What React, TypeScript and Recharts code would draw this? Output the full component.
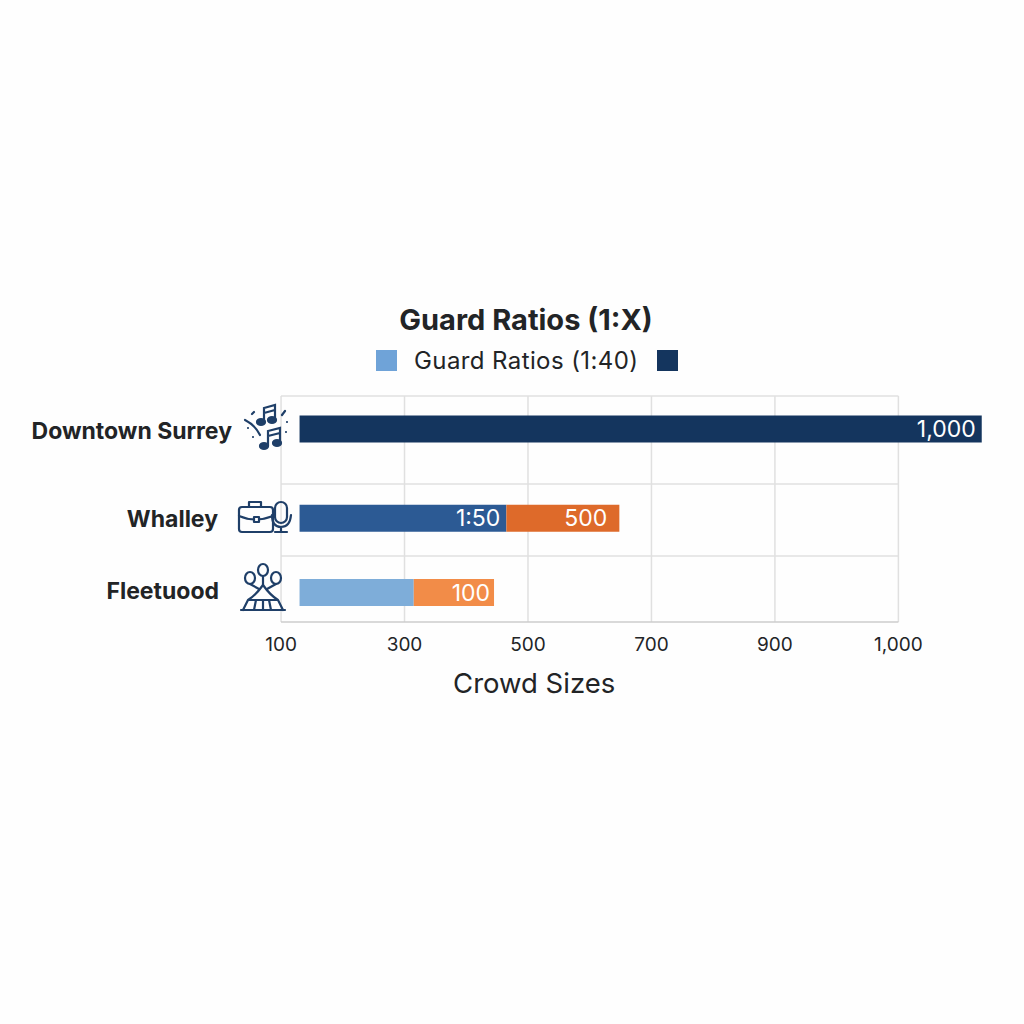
import { BarChart, Bar, XAxis, YAxis, Cell, LabelList, ReferenceLine, CartesianGrid } from "recharts";

const FONT = "Inter, sans-serif";
const INK = "#222426";
const GRID = "#E0E0E0";

const categories = ["Downtown Surrey", "Whalley", "Fleetuood"];
const rowPositions = [0, 6, 11];
const barStart = [130, 130, 130];
const firstSegment = [1105, 335, 185];
const secondSegment = [0, 183, 130];
const firstLabels = ["1,000", "1:50", ""];
const secondLabels = ["", "500", "100"];
const firstColors = ["#14355E", "#2C5A94", "#7EADD9"];
const secondColors = ["#14355E", "#DE6A2A", "#F28C48"];

const xTicks = [100, 300, 500, 700, 900, 1100];
const xTickLabels = ["100", "300", "500", "700", "900", "1,000"];
const rowDividers = [3.72, 8.56];
const legendColors = ["#6FA3D8", "#14355E"];

const data = categories.map((name, i) => ({
  name,
  row: rowPositions[i],
  start: barStart[i],
  first: firstSegment[i],
  second: secondSegment[i],
  firstLabel: firstLabels[i],
  secondLabel: secondLabels[i],
}));

const ICON = "#1F3F68";

function MusicIcon() {
  return (
    <g fill="none" stroke={ICON} strokeWidth={2.2} strokeLinecap="round">
      <path d="M-3 -6 V-20 L8 -23 V-8 M-3 -15 L8 -18" />
      <ellipse cx={-6} cy={-6} rx={4} ry={3} fill={ICON} />
      <ellipse cx={5} cy={-8} rx={4} ry={3} fill={ICON} />
      <path d="M1 18 V3 L13 0 V15 M1 8 L13 5" />
      <ellipse cx={-3} cy={18} rx={4} ry={3} fill={ICON} />
      <ellipse cx={10} cy={15} rx={4} ry={3} fill={ICON} />
      <path d="M-22 -8 Q-12 -3 -7 7 M-15 -14 L-13 -16 M15 -13 L18 -17 M-19 0 L-19 0 M-14 9 L-14 9 M20 -6 L20 -6 M19 4 L19 4" />
    </g>
  );
}

function BriefcaseIcon() {
  return (
    <g fill="none" stroke={ICON} strokeWidth={2.2} strokeLinejoin="round" strokeLinecap="round">
      <rect x={-28} y={-11} width={34} height={25} rx={3} />
      <path d="M-18 -11 V-16 H-6 V-11 M-28 -2 Q-12 5 6 -2" />
      <rect x={-13} y={-1} width={5} height={5} fill="#fff" />
      <rect x={8} y={-16} width={12} height={21} rx={6} />
      <path d="M5 -3 Q5 9 14 9 Q23 9 24 -3 M14 9 V14 M8 14 H20" />
    </g>
  );
}

function TentIcon() {
  return (
    <g fill="none" stroke={ICON} strokeWidth={2.2} strokeLinejoin="round" strokeLinecap="round">
      <ellipse cx={-14} cy={-12} rx={5} ry={6} />
      <ellipse cx={-1} cy={-20} rx={5} ry={6} />
      <ellipse cx={12} cy={-12} rx={5} ry={6} />
      <path d="M-14 -6 L-5 -1 M-1 -14 V-5 M12 -6 L3 -1" />
      <path d="M-1 -5 Q-8 5 -16 10 H14 Q6 5 -1 -5 M-21 20 L-16 10 M19 20 L14 10 M-10 20 L-8 10 M7 20 L5 10 M-1 10 V20 M-23 20 H21" />
    </g>
  );
}

const rowIcons = [MusicIcon, BriefcaseIcon, TentIcon];
const labelRight = [232, 218, 219];
const labelNudge = [2, 1, -1];
const iconCenter = [[267, 428], [267, 518], [264, 590]];
const secondLabelInset = [0, 12, 4];

function RowTick({ payload, y }: any) {
  const i = rowPositions.indexOf(payload.value);
  if (i < 0) return null;
  const Icon = rowIcons[i];
  return (
    <g>
      <text x={labelRight[i]} y={y + labelNudge[i]} dy="0.35em" textAnchor="end" fontFamily={FONT} fontWeight={700} fontSize={23} fill={INK}>
        {categories[i]}
      </text>
      <g transform={`translate(${iconCenter[i][0]},${iconCenter[i][1]})`}>
        <Icon />
      </g>
    </g>
  );
}

function SecondLabel({ x, y, width, height, value }: any) {
  if (!value) return null;
  // the zero-length segment gets dropped, so the label index can't be trusted here
  const inset = secondLabelInset[secondLabels.indexOf(value)];
  return (
    <text x={x + width - inset} y={y + height / 2} dy="0.35em" textAnchor="end" fontFamily={FONT} fontSize={23} fill="#FFFFFF">
      {value}
    </text>
  );
}

export default function App() {
  return (
    <div style={{ position: "absolute", left: 0, top: 0, width: 1024, height: 1024, background: "#FEFEFE" }}>
      <div style={{ position: "absolute", left: 0, width: 1052, top: 302, textAlign: "center", fontFamily: FONT, fontWeight: 700, fontSize: 29, color: INK }}>
        Guard Ratios (1:X)
      </div>
      <div style={{ position: "absolute", left: 376, top: 346, display: "flex", alignItems: "center", fontFamily: FONT, fontSize: 24, letterSpacing: 0.4, color: INK, whiteSpace: "nowrap" }}>
        <span style={{ width: 21, height: 21, background: legendColors[0] }} />
        <span style={{ margin: "0 19px 0 17px" }}>Guard Ratios (1:40)</span>
        <span style={{ width: 21, height: 21, background: legendColors[1] }} />
      </div>
      <BarChart
        width={1024}
        height={1024}
        layout="vertical"
        data={data}
        margin={{ top: 396, right: 33, bottom: 342, left: 0 }}
      >
        <CartesianGrid horizontal={false} verticalValues={xTicks} stroke={GRID} strokeWidth={1.5} />
        <XAxis
          type="number"
          domain={[0, 1250]}
          ticks={xTicks}
          tickFormatter={(v: number) => xTickLabels[xTicks.indexOf(v)]}
          axisLine={false}
          tickLine={false}
          height={60}
          tick={{ fontFamily: FONT, fontSize: 19, fill: INK }}
          tickMargin={10}
          label={{ value: "Crowd Sizes", position: "insideBottom", dx: -71, dy: 16, fontFamily: FONT, fontSize: 27.5, fill: INK }}
        />
        <YAxis
          type="number"
          dataKey="row"
          domain={[-2.2, 13]}
          ticks={rowPositions}
          width={219.3}
          axisLine={false}
          tickLine={false}
          interval={0}
          tick={<RowTick />}
        />
        <ReferenceLine segment={[{ x: 100, y: -2.2 }, { x: 1100, y: -2.2 }]} stroke={GRID} strokeWidth={1.5} />
        {rowDividers.map((y) => (
          <ReferenceLine key={y} segment={[{ x: 100, y }, { x: 1100, y }]} stroke={GRID} strokeWidth={1.5} />
        ))}
        <ReferenceLine segment={[{ x: 100, y: 13 }, { x: 1100, y: 13 }]} stroke="#CCCCCC" strokeWidth={1.5} />
        <Bar dataKey="start" stackId="a" barSize={27} fill="none" isAnimationActive={false} />
        <Bar dataKey="first" stackId="a" barSize={27} isAnimationActive={false}>
          {categories.map((c, i) => (
            <Cell key={c} fill={firstColors[i]} />
          ))}
          <LabelList dataKey="firstLabel" position="insideRight" offset={6} fill="#FFFFFF" fontFamily={FONT} fontSize={23} />
        </Bar>
        <Bar dataKey="second" stackId="a" barSize={27} isAnimationActive={false}>
          {categories.map((c, i) => (
            <Cell key={c} fill={secondColors[i]} />
          ))}
          <LabelList dataKey="secondLabel" content={<SecondLabel />} />
        </Bar>
      </BarChart>
    </div>
  );
}
